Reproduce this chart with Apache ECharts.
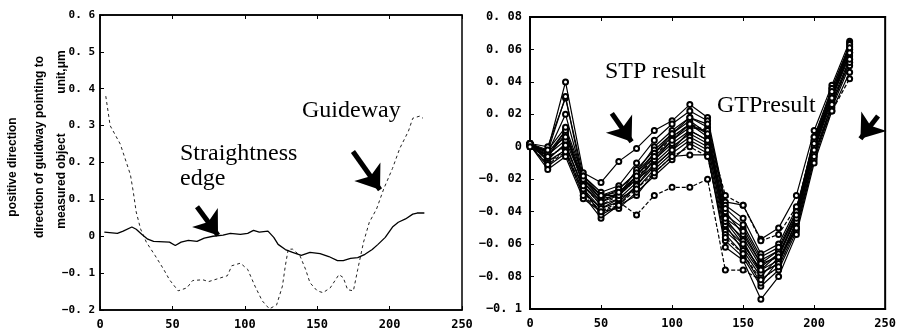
<!DOCTYPE html>
<html>
<head>
<meta charset="utf-8">
<script src="https://cdn.jsdelivr.net/npm/echarts@6/dist/echarts.min.js"></script>
<style>
    html, body { margin: 0; padding: 0; background: #fff; }
    #chart { width: 899px; height: 336px; }
</style>
</head>
<body>
<div id="chart"></div>
<script>
/* left panel: guideway (dotted) and straightness edge (solid) */
var guideX = [4, 7, 14, 21, 23, 25, 28, 32, 38, 44, 48, 54, 60, 64, 71, 75, 88, 91, 97, 102,
    107, 112, 117, 122, 126, 128, 130, 133, 138, 142, 145, 150, 154, 159, 165, 168, 171, 175, 178, 182,
    186, 191, 196, 202, 207, 213, 216, 221, 223];
var guideY = [0.38, 0.30, 0.25, 0.167, 0.12, 0.066, 0.02, -0.016, -0.052, -0.09,
    -0.118, -0.148, -0.14, -0.12, -0.118, -0.123, -0.107, -0.08, -0.073, -0.09,
    -0.135, -0.175, -0.197, -0.186, -0.135, -0.08, -0.035, -0.035, -0.052, -0.09,
    -0.126, -0.148, -0.153, -0.14, -0.104, -0.112, -0.145, -0.148, -0.09, -0.016,
    0.038, 0.074, 0.129, 0.184, 0.238, 0.285, 0.32, 0.326, 0.32];

var straightX = [3, 12, 16, 22, 25, 29, 33, 37, 48, 52, 56, 61, 67, 72, 78, 85, 90, 97, 102, 106,
    110, 116, 120, 123, 128, 133, 139, 145, 152, 158, 164, 168, 173, 178, 183, 188, 192, 197, 202, 206,
    211, 216, 219, 224];
var straightY = [0.011, 0.008, 0.014, 0.025, 0.019, 0.005, -0.008, -0.014, -0.016, -0.025,
    -0.016, -0.011, -0.014, -0.005, 0, 0.003, 0.008, 0.005, 0.008, 0.016,
    0.011, 0.014, -0.003, -0.022, -0.036, -0.044, -0.052, -0.044, -0.047, -0.055,
    -0.066, -0.066, -0.06, -0.058, -0.049, -0.036, -0.022, -0.003, 0.025, 0.038,
    0.047, 0.06, 0.063, 0.063];

/* right panel: repeated STP / GTP results, same x stations */
var runX = [0, 12.5, 25, 37.5, 50, 62.5, 75, 87.5, 100, 112.5, 125, 137.5, 150, 162.5, 175, 187.5, 200, 212.5, 225];
var runA = [0.002, -0.002, 0.040, -0.016, -0.022, -0.009, -0.001, 0.010, 0.016, 0.026, 0.018, -0.034, -0.036, -0.057, -0.050, -0.030, 0.010, 0.038, 0.065];
var runB = [0.002, 0.000, 0.030, -0.018, -0.028, -0.024, -0.010, 0.004, 0.014, 0.022, 0.016, -0.036, -0.044, -0.066, -0.060, -0.038, 0.004, 0.036, 0.062];
var runC = [0.001, -0.003, 0.031, -0.022, -0.032, -0.026, -0.016, 0.000, 0.010, 0.018, 0.012, -0.042, -0.050, -0.070, -0.064, -0.040, 0.006, 0.034, 0.060];
var runD = [0.002, -0.004, 0.010, -0.020, -0.030, -0.030, -0.018, -0.004, 0.006, 0.014, 0.006, -0.046, -0.056, -0.074, -0.066, -0.044, 0.002, 0.032, 0.058];
var runE = [0.001, -0.006, 0.008, -0.024, -0.036, -0.032, -0.022, -0.008, 0.004, 0.012, 0.010, -0.050, -0.060, -0.076, -0.070, -0.046, 0.000, 0.030, 0.056];
var runF = [0.002, -0.008, 0.002, -0.026, -0.038, -0.034, -0.024, -0.010, 0.000, 0.008, 0.002, -0.052, -0.062, -0.078, -0.072, -0.048, -0.002, 0.028, 0.054];
var runG = [0.000, -0.010, -0.002, -0.028, -0.040, -0.034, -0.042, -0.030, -0.025, -0.025, -0.020, -0.076, -0.076, -0.082, -0.074, -0.050, -0.006, 0.026, 0.052];
var runH = [0.001, -0.012, -0.004, -0.030, -0.044, -0.036, -0.030, -0.016, -0.006, -0.005, -0.005, -0.058, -0.068, -0.086, -0.076, -0.052, -0.008, 0.024, 0.050];
var runI = [0.002, -0.005, 0.004, -0.022, -0.034, -0.028, -0.020, -0.012, -0.002, 0.006, 0.000, -0.048, -0.064, -0.080, -0.068, -0.044, 0.002, 0.030, 0.058];
var runJ = [0.001, -0.014, -0.006, -0.032, -0.040, -0.038, -0.028, -0.018, -0.008, 0.002, -0.004, -0.062, -0.070, -0.094, -0.080, -0.054, -0.010, 0.022, 0.046];
var runK = [0.002, -0.003, 0.006, -0.020, -0.032, -0.030, -0.014, -0.002, 0.008, 0.016, 0.008, -0.040, -0.054, -0.072, -0.064, -0.042, 0.004, 0.032, 0.060];
var runL = [0.001, -0.006, 0.000, -0.024, -0.036, -0.030, -0.020, -0.006, 0.006, 0.014, 0.010, -0.030, -0.036, -0.058, -0.054, -0.037, -0.004, 0.022, 0.042];
var runM = [0.002, -0.009, -0.002, -0.028, -0.038, -0.032, -0.026, -0.014, -0.004, 0.004, -0.002, -0.054, -0.066, -0.084, -0.070, -0.050, -0.004, 0.026, 0.052];
var runN = [0.000, -0.007, 0.001, -0.026, -0.042, -0.036, -0.024, -0.012, -0.002, 0.010, 0.004, -0.044, -0.058, -0.078, -0.072, -0.046, 0.000, 0.030, 0.064];
var runO = [0.002, -0.004, 0.020, -0.020, -0.030, -0.026, -0.016, -0.004, 0.008, 0.018, 0.014, -0.038, -0.048, -0.068, -0.062, -0.040, 0.006, 0.036, 0.063];
var runP = [0.001, -0.011, -0.003, -0.030, -0.040, -0.036, -0.026, -0.016, -0.006, 0.000, -0.006, -0.056, -0.066, -0.082, -0.074, -0.050, -0.006, 0.026, 0.054];
var runQ = [0.002, -0.006, 0.010, -0.024, -0.034, -0.030, -0.020, -0.008, 0.002, 0.010, 0.004, -0.046, -0.060, -0.076, -0.066, -0.044, -0.002, 0.030, 0.058];
var runR = [0.000, -0.002, 0.012, -0.018, -0.030, -0.028, -0.018, -0.006, 0.004, 0.014, 0.008, -0.044, -0.052, -0.072, -0.068, -0.042, 0.002, 0.034, 0.061];
var runs = [runA, runB, runC, runD, runE, runF, runG, runH, runI, runJ, runK, runL, runM, runN, runO, runP, runQ, runR];
var dashedRuns = [6, 11, 15];

function zip(xs, ys) {
    var out = [];
    for (var i = 0; i < xs.length; i++) {
        out.push([xs[i], ys[i]]);
    }
    return out;
}

function tickText(v) {
    var s = String(Math.round(v * 100) / 100);
    return s.replace('-', '\u2212').replace('.', '. ');
}

var chart = echarts.init(document.getElementById('chart'));

function bottomAxis(grid) {
    return {
        gridIndex: grid, type: 'value', min: 0, max: 250, interval: 50,
        axisLine: { show: true, onZero: false, lineStyle: { color: '#000', width: grid ? 2 : 1.5 } },
        axisTick: { show: true, inside: true, length: 4, lineStyle: { color: '#000' } },
        axisLabel: { show: true, margin: 9, fontSize: 12, color: '#000', fontFamily: 'DejaVu Sans Mono', fontWeight: 'bold' },
        splitLine: { show: false }
    };
}
function topAxis(grid) {
    return {
        gridIndex: grid, type: 'value', position: 'top', min: 0, max: 250, interval: 50,
        axisLine: { show: true, onZero: false, lineStyle: { color: '#000', width: grid ? 2 : 1.5 } },
        axisTick: { show: true, inside: true, length: 4, lineStyle: { color: '#000' } },
        axisLabel: { show: false },
        splitLine: { show: false }
    };
}

var arrowStyle = {
    silent: true, symbol: ['none', 'arrow'], symbolSize: [24, 22],
    lineStyle: { color: '#000', width: 5, type: 'solid' },
    label: { show: false }
};

var series = [];
/*guideway*/
series.push({
    type: 'line', xAxisIndex: 0, yAxisIndex: 0,
    data: zip(guideX, guideY),
    showSymbol: false, silent: true,
    lineStyle: { color: '#222', width: 1, type: [3, 3] },
    markLine: Object.assign({}, arrowStyle, {
        data: [
            [{ coord: [67, 0.08] }, { coord: [81.5, 0.003] }],
            [{ coord: [174.7, 0.23] }, { coord: [193.4, 0.126] }]
        ]
    })
});
/*straightness edge*/
series.push({
    type: 'line', xAxisIndex: 0, yAxisIndex: 0,
    data: zip(straightX, straightY),
    showSymbol: false, silent: true,
    lineStyle: { color: '#000', width: 1.3 }
});
/*STP / GTP runs*/
for (var r = 0; r < runs.length; r++) {
    var s = {
        type: 'line', xAxisIndex: 2, yAxisIndex: 1,
        data: zip(runX, runs[r]),
        symbol: 'emptyCircle', symbolSize: 5, silent: true,
        itemStyle: { color: '#000', borderWidth: 1 },
        lineStyle: { color: '#000', width: 1.2, type: dashedRuns.indexOf(r) >= 0 ? [4, 2] : 'solid' }
    };
    if (r === 0) {
        s.markLine = Object.assign({}, arrowStyle, {
            data: [
                [{ coord: [57.6, 0.0206] }, { coord: [71.5, 0.0031] }],
                [{ coord: [245, 0.019] }, { coord: [232.6, 0.005] }]
            ]
        });
    }
    series.push(s);
}

var annFont = '24px "Liberation Serif"';
var titleFont = 'bold 12px "Liberation Sans"';

var option = {
    animation: false,
    backgroundColor: '#fff',
    grid: [
        { left: 100, top: 15, width: 362, height: 295, show: true, borderColor: '#000', borderWidth: 1.5 },
        { left: 530, top: 17, width: 362, height: 292, show: true, borderColor: '#000', borderWidth: 2 }
    ],
    xAxis: [bottomAxis(0), topAxis(0), bottomAxis(1), topAxis(1)],
    yAxis: [
        {
            gridIndex: 0, type: 'value', min: -0.2, max: 0.6, interval: 0.1,
            axisLine: { show: true, onZero: false, lineStyle: { color: '#000', width: 1.5 } },
            axisTick: { show: true, inside: true, length: 4, lineStyle: { color: '#000' } },
            axisLabel: { margin: 5, fontSize: 11, color: '#000', fontFamily: 'DejaVu Sans Mono', fontWeight: 'bold', formatter: tickText },
            splitLine: { show: false }
        },
        {
            gridIndex: 1, type: 'value', min: -0.1, max: 0.08, interval: 0.02,
            axisLine: { show: true, onZero: false, lineStyle: { color: '#000', width: 2 } },
            axisTick: { show: true, inside: true, length: 4, lineStyle: { color: '#000' } },
            axisLabel: { margin: 8, fontSize: 12, color: '#000', fontFamily: 'DejaVu Sans Mono', fontWeight: 'bold', formatter: tickText },
            splitLine: { show: false }
        }
    ],
    graphic: [
        { type: 'text', x: 13, y: 167, rotation: Math.PI / 2, style: { text: 'positive direction', font: titleFont, fill: '#000', align: 'center', verticalAlign: 'middle' } },
        { type: 'text', x: 40, y: 147, rotation: Math.PI / 2, style: { text: 'direction of guidway pointing to', font: titleFont, fill: '#000', align: 'center', verticalAlign: 'middle' } },
        { type: 'text', x: 62, y: 181, rotation: Math.PI / 2, style: { text: 'measured object', font: titleFont, fill: '#000', align: 'center', verticalAlign: 'middle' } },
        { type: 'text', x: 62, y: 72, rotation: Math.PI / 2, style: { text: 'unit,\u03bcm', font: titleFont, fill: '#000', align: 'center', verticalAlign: 'middle' } },
        { type: 'text', x: 180, y: 141, style: { text: 'Straightness\nedge', font: annFont, lineHeight: 25, fill: '#000', verticalAlign: 'top' } },
        { type: 'text', x: 302, y: 99, style: { text: 'Guideway', font: annFont, fill: '#000', verticalAlign: 'top' } },
        { type: 'text', x: 605, y: 60, style: { text: 'STP result', font: annFont, fill: '#000', verticalAlign: 'top' } },
        { type: 'text', x: 717, y: 94, style: { text: 'GTPresult', font: annFont, fill: '#000', verticalAlign: 'top' } }
    ],
    series: series
};

chart.setOption(option);
</script>
</body>
</html>
